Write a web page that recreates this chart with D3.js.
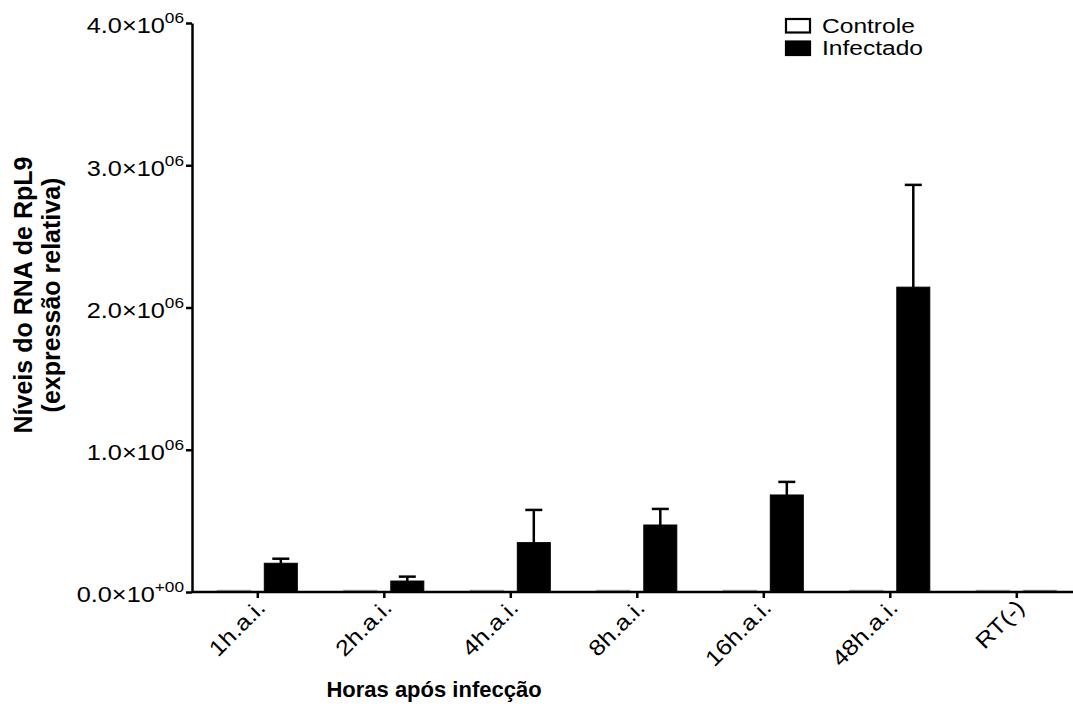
<!DOCTYPE html>
<html>
<head>
<meta charset="utf-8">
<script src="https://cdn.jsdelivr.net/npm/d3@7"></script>
<style>
  body { margin: 0; background: #fff; }
  svg { font-family: "Liberation Sans", Arial, sans-serif; }
  .axis path, .axis line { stroke: #000; stroke-width: 2.5; }
  .title { font-weight: bold; font-size: 22px; }
  .legend text { font-size: 21px; }
</style>
</head>
<body>
<div id="chart"></div>
<script>
const categories = ['1h.a.i.', '2h.a.i.', '4h.a.i.', '8h.a.i.', '16h.a.i.', '48h.a.i.', 'RT(-)'];
const controle = [12000, 12000, 12000, 12000, 12000, 12000, 12000];
const controleErr = [0, 0, 0, 0, 0, 0, 0];
const infectado = [202000, 77000, 347000, 471000, 682000, 2143000, 12000];
const infectadoErr = [32000, 31000, 230000, 113000, 92000, 719000, 0];
const yTicks = [0, 1e6, 2e6, 3e6, 4e6];

const width = 1073;
const height = 707;
const margin = {top: 23, left: 192, bottom: 115};
const innerW = width - margin.left;
const innerH = height - margin.top - margin.bottom;

const barW = 33;
const barGap = 7;
const capW = 17;
const stretch = 1.15;  // labels in the original are drawn wide
const tickFont = "Liberation Sans, Arial, sans-serif";

let svg = d3.select('#chart').append('svg')
  .attr('width', width)
  .attr('height', height)

let content = svg.append('g')
  .attr('transform', `translate(${margin.left}, ${margin.top})`)

let x = d3.scalePoint()
  .domain(categories)
  .range([65.3, 824.3])

let y = d3.scaleLinear()
  .domain([0, 4e6])
  .range([innerH, 0])

let series = [
  {name: 'Controle', values: controle, errs: controleErr, offset: -barGap - barW, fill: '#fff', stroke: '#999'},
  {name: 'Infectado', values: infectado, errs: infectadoErr, offset: barGap, fill: '#000', stroke: '#000'}
];

series.forEach(s => {
  let rows = categories.map((c, i) => ({cat: c, v: s.values[i], e: s.errs[i]}));

  let g = content.append('g').classed('series', true);

  g.selectAll('rect').data(rows).enter().append('rect')
    .attr('x', d => x(d.cat) + s.offset)
    .attr('width', barW)
    .attr('y', d => y(d.v))
    .attr('height', d => innerH - y(d.v))
    .attr('fill', s.fill)
    .attr('stroke', d => d.v < 50000 ? '#999' : s.stroke)
    .attr('stroke-width', 1)

  let errRows = rows.filter(d => d.e > 0);
  g.selectAll('line.err').data(errRows).enter().append('line')
    .classed('err', true)
    .attr('x1', d => x(d.cat) + s.offset + barW / 2)
    .attr('x2', d => x(d.cat) + s.offset + barW / 2)
    .attr('y1', d => y(d.v))
    .attr('y2', d => y(d.v + d.e))
    .attr('stroke', '#000')
    .attr('stroke-width', 2.5)

  g.selectAll('line.cap').data(errRows).enter().append('line')
    .classed('cap', true)
    .attr('x1', d => x(d.cat) + s.offset + barW / 2 - capW / 2)
    .attr('x2', d => x(d.cat) + s.offset + barW / 2 + capW / 2)
    .attr('y1', d => y(d.v + d.e))
    .attr('y2', d => y(d.v + d.e))
    .attr('stroke', '#000')
    .attr('stroke-width', 2.5)
});

// y axis with scientific labels
let yAxis = d3.axisLeft(y)
  .tickValues(yTicks)
  .tickSize(6)
  .tickSizeOuter(0)
  .tickFormat(() => '');

let yG = content.append('g').classed('axis', true).call(yAxis)
  .attr('font-family', tickFont)
  .attr('font-size', 22);
yG.selectAll('.tick text').each(function (d) {
  let t = d3.select(this)
    .attr('x', -8 / stretch)
    .attr('dy', '0.45em')
    .attr('text-anchor', 'end')
    .attr('fill', '#000')
    .attr('transform', `scale(${stretch}, 1)`);
  let exp = d === 0 ? 0 : Math.floor(Math.log10(d));
  let mant = d === 0 ? 0 : d / Math.pow(10, exp);
  let expStr = d === 0 ? '+00' : String(exp).padStart(2, '0');
  t.append('tspan').text(mant.toFixed(1) + '×10');
  t.append('tspan').attr('dy', -10).attr('font-size', 15).text(expStr);
});

// x axis, line runs to the right edge
let xAxis = d3.axisBottom(x)
  .tickSize(6)
  .tickSizeOuter(0);

let xG = content.append('g').classed('axis', true)
  .attr('transform', `translate(0, ${innerH})`)
  .call(xAxis)
  .attr('font-family', tickFont)
  .attr('font-size', 22);
xG.select('.domain').attr('d', `M0,0H${innerW}`);
xG.selectAll('.tick text')
  .attr('text-anchor', 'end')
  .attr('fill', '#000')
  .attr('dy', 0)
  .attr('y', 0)
  .attr('transform', `translate(9, 17) rotate(-45) scale(${stretch}, 1)`);

// axis titles
svg.append('text')
  .classed('title', true)
  .attr('x', 434)
  .attr('y', 697)
  .attr('text-anchor', 'middle')
  .text('Horas após infecção')

let yTitle = svg.append('text')
  .classed('title', true)
  .style('font-size', '25px')
  .attr('text-anchor', 'middle')
  .attr('transform', 'translate(32, 295) rotate(-90)')
yTitle.append('tspan').attr('x', 0).attr('y', 0).text('Níveis do RNA de RpL9');
yTitle.append('tspan').attr('x', 0).attr('y', 28).text('(expressão relativa)');

// legend
let legend = svg.append('g').classed('legend', true)
  .attr('transform', 'translate(785, 18)')

series.forEach((s, i) => {
  legend.append('rect')
    .attr('x', 1)
    .attr('y', i * 22.5 + 1)
    .attr('width', 24)
    .attr('height', 13.5)
    .attr('fill', s.fill)
    .attr('stroke', '#000')
    .attr('stroke-width', 2.2)
  legend.append('text')
    .attr('x', 37 / 1.17)
    .attr('y', i * 22.5 + 15)
    .attr('transform', 'scale(1.17, 1)')
    .text(s.name)
});
</script>
</body>
</html>
